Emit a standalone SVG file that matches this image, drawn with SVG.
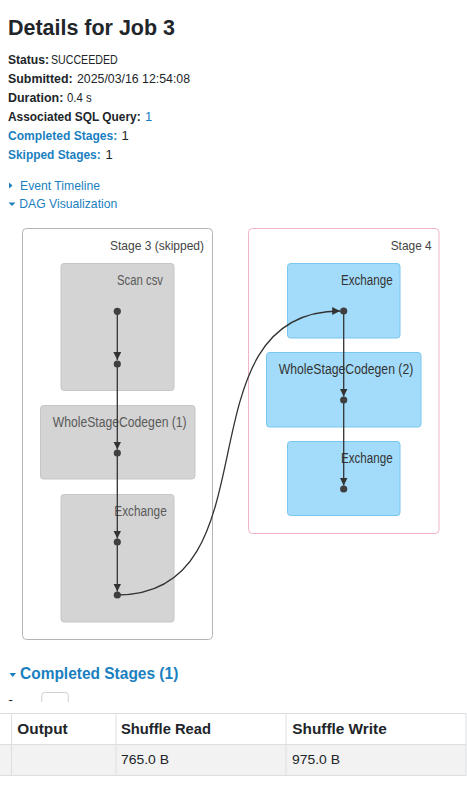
<svg xmlns="http://www.w3.org/2000/svg" width="467" height="789" viewBox="0 0 467 789">
<style>
text{font-family:"Liberation Sans",Arial,sans-serif;fill:#212529;font-size:13px}
.b{font-weight:bold;font-size:12px}
.lk{fill:#1a7fbf}
.h1{font-size:22px;font-weight:bold}
.stl{fill:#444;font-size:13px}
.nl{font-size:14px;fill:#333}
.snl{font-size:14px;fill:#5a5a5a}
.cl3{fill:#fff;stroke:#b3b3b3;stroke-width:1}
.cl4{fill:#fff;stroke:#f2b3c2;stroke-width:1}
.sk{fill:#d4d4d4;stroke:#c6c6c6;stroke-width:1}
.ac{fill:#a3dcfa;stroke:#79c6ee;stroke-width:1}
.dot{fill:#3f3f3f}
.e{fill:none;stroke:#333;stroke-width:1.3;marker-end:url(#arr)}
.th{font-size:14px;font-weight:bold}
.grid{stroke:#dcdfe2;stroke-width:1}
</style>
<defs>
<marker id="arr" markerUnits="userSpaceOnUse" markerWidth="8" markerHeight="8" refX="8" refY="4" orient="auto">
<path d="M0,0 L8,4 L0,8 z" fill="#333"/>
</marker>
</defs>
<rect width="467" height="789" fill="#fff"/>
<g id="header">
<text class="h1" x="8" y="35" textLength="167" lengthAdjust="spacingAndGlyphs">Details for Job 3</text>
<text class="b" x="8" y="64" textLength="41" lengthAdjust="spacingAndGlyphs">Status:</text>
<text x="51" y="64" textLength="66.7" lengthAdjust="spacingAndGlyphs">SUCCEEDED</text>
<text class="b" x="8" y="83" textLength="64.7" lengthAdjust="spacingAndGlyphs">Submitted:</text>
<text x="77" y="83" textLength="113" lengthAdjust="spacingAndGlyphs">2025/03/16 12:54:08</text>
<text class="b" x="8" y="102" textLength="55.3" lengthAdjust="spacingAndGlyphs">Duration:</text>
<text x="67" y="102" textLength="24.7" lengthAdjust="spacingAndGlyphs">0.4 s</text>
<text class="b" x="8" y="121" textLength="132.7" lengthAdjust="spacingAndGlyphs">Associated SQL Query:</text>
<text class="lk" x="145" y="121">1</text>
<text class="b lk" x="8" y="140" textLength="109.3" lengthAdjust="spacingAndGlyphs">Completed Stages:</text>
<text x="121.5" y="140">1</text>
<text class="b lk" x="8" y="159" textLength="92.7" lengthAdjust="spacingAndGlyphs">Skipped Stages:</text>
<text x="105.5" y="159">1</text>
<polygon class="lk" points="9,182.5 12.5,185.5 9,188.5"/>
<text class="lk" x="20" y="189.5" textLength="80" lengthAdjust="spacingAndGlyphs">Event Timeline</text>
<polygon class="lk" points="8.5,202.5 15.5,202.5 12,206"/>
<text class="lk" x="19.3" y="208.3" textLength="98" lengthAdjust="spacingAndGlyphs">DAG Visualization</text>
</g>
<g id="stage3">
<rect class="cl3" x="22.5" y="228.5" width="190" height="411" rx="4"/>
<text class="stl" x="110" y="250" textLength="94" lengthAdjust="spacingAndGlyphs">Stage 3 (skipped)</text>
</g>
<g id="stage4">
<rect class="cl4" x="248.5" y="228.5" width="190.5" height="305" rx="4"/>
<text class="stl" x="390.7" y="250" textLength="41" lengthAdjust="spacingAndGlyphs">Stage 4</text>
</g>
<g id="scan-csv">
<rect class="sk" x="61" y="263.5" width="113" height="127" rx="3"/>
<text class="snl" x="117" y="285" textLength="46" lengthAdjust="spacingAndGlyphs">Scan csv</text>
</g>
<g id="wsc1">
<rect class="sk" x="40.5" y="405.5" width="154.5" height="73.5" rx="3"/>
<text class="snl" x="52.7" y="427" textLength="134" lengthAdjust="spacingAndGlyphs">WholeStageCodegen (1)</text>
</g>
<g id="exchange3">
<rect class="sk" x="61" y="494.5" width="113" height="127.5" rx="3"/>
<text class="snl" x="114.3" y="516" textLength="52.4" lengthAdjust="spacingAndGlyphs">Exchange</text>
</g>
<g id="exchange4a">
<rect class="ac" x="287.5" y="263.5" width="112.5" height="74.5" rx="3"/>
<text class="nl" x="341" y="285" textLength="51.7" lengthAdjust="spacingAndGlyphs">Exchange</text>
</g>
<g id="wsc2">
<rect class="ac" x="266.5" y="352.5" width="154.5" height="74.5" rx="3"/>
<text class="nl" x="278.7" y="374" textLength="134.6" lengthAdjust="spacingAndGlyphs">WholeStageCodegen (2)</text>
</g>
<g id="exchange4b">
<rect class="ac" x="287.5" y="441.5" width="112.5" height="74" rx="3"/>
<text class="nl" x="341" y="463" textLength="51.7" lengthAdjust="spacingAndGlyphs">Exchange</text>
</g>
<g id="edges">
<line class="e" x1="117.3" y1="311" x2="117.3" y2="360"/>
<line class="e" x1="117.3" y1="364" x2="117.3" y2="449.5"/>
<line class="e" x1="117.3" y1="453" x2="117.3" y2="538.5"/>
<line class="e" x1="117.3" y1="542" x2="117.3" y2="591.5"/>
<line class="e" x1="343.7" y1="311" x2="343.7" y2="396.5"/>
<line class="e" x1="343.7" y1="400" x2="343.7" y2="485.5"/>
<path class="e" d="M117.3,595 C279,595 176,311 340.2,311"/>
</g>
<g id="dots">
<circle class="dot" cx="117.3" cy="311.3" r="3.6"/>
<circle class="dot" cx="117.3" cy="364" r="3.6"/>
<circle class="dot" cx="117.3" cy="453" r="3.6"/>
<circle class="dot" cx="117.3" cy="542" r="3.6"/>
<circle class="dot" cx="117.3" cy="595" r="3.6"/>
<circle class="dot" cx="343.7" cy="311" r="3.6"/>
<circle class="dot" cx="343.7" cy="400" r="3.6"/>
<circle class="dot" cx="343.7" cy="489" r="3.6"/>
</g>
<g id="completed">
<polygon class="lk" points="9.5,673 16,673 12.75,677"/>
<text class="lk" x="20" y="678.5" style="font-size:16px;font-weight:bold" textLength="158.3" lengthAdjust="spacingAndGlyphs">Completed Stages (1)</text>
<text x="8.5" y="704">-</text>
<path d="M41.7,702 V695.5 Q41.7,692.5 44.7,692.5 H65.3 Q68.3,692.5 68.3,695.5 V702" fill="none" stroke="#cfcfcf" stroke-width="1"/>
</g>
<g id="table">
<rect x="0" y="744.5" width="466" height="31" fill="#f2f2f2"/>
<line class="grid" x1="0" y1="713.5" x2="466" y2="713.5"/>
<line class="grid" x1="0" y1="744.5" x2="466" y2="744.5"/>
<line class="grid" x1="0" y1="775.5" x2="466" y2="775.5"/>
<line class="grid" x1="11.5" y1="713.5" x2="11.5" y2="775.5"/>
<line class="grid" x1="116" y1="713.5" x2="116" y2="775.5"/>
<line class="grid" x1="286" y1="713.5" x2="286" y2="775.5"/>
<line class="grid" x1="466" y1="713.5" x2="466" y2="775.5"/>
<text class="th" x="17.3" y="734.3" textLength="50.4" lengthAdjust="spacingAndGlyphs">Output</text>
<text class="th" x="121" y="734.3" textLength="90" lengthAdjust="spacingAndGlyphs">Shuffle Read</text>
<text class="th" x="292.3" y="734.3" textLength="94.4" lengthAdjust="spacingAndGlyphs">Shuffle Write</text>
<text x="121" y="764.3" textLength="48" lengthAdjust="spacingAndGlyphs">765.0 B</text>
<text x="292" y="764.3" textLength="48" lengthAdjust="spacingAndGlyphs">975.0 B</text>
</g>
</svg>
